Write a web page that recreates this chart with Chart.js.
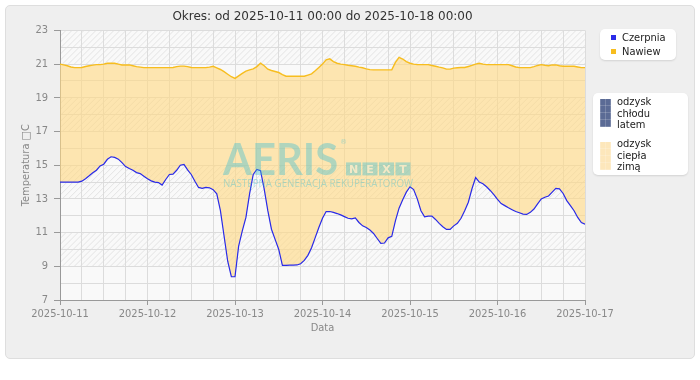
<!DOCTYPE html>
<html>
<head>
<meta charset="utf-8">
<script src="https://cdn.jsdelivr.net/npm/chart.js@4.4.1/dist/chart.umd.min.js"></script>
<style>
  body { margin: 0; background: #fff; }
  #wrap { position: relative; width: 700px; height: 380px; }
  .panel { position: absolute; left: 5px; top: 5px; width: 688px; height: 352px;
           background: #efefef; border: 1px solid #dedede; border-radius: 5px; }
  canvas { position: absolute; left: 0; top: 0; }
  .box { position: absolute; background: #fff; border-radius: 5px;
         box-shadow: 0 1px 2px rgba(0,0,0,0.12);
         font-family: "DejaVu Sans Condensed", "DejaVu Sans", sans-serif; font-size: 11px; color: #222; }
  .row { position: absolute; left: 11px; height: 14px; line-height: 14px; white-space: nowrap; }
  .dot { display: inline-block; width: 5px; height: 5px; margin-right: 6px; vertical-align: 1px; }
  .sw { position: absolute; left: 7px; width: 11px; height: 28px; }
  .txt { position: absolute; left: 24px; line-height: 11.5px; }
</style>
</head>
<body>
<div id="wrap">
  <div class="panel"></div>
  <canvas id="chart" width="700" height="380"></canvas>
  <div class="box" id="legend1" style="left:600px;top:29px;width:76px;height:31px"></div>
  <div class="box" id="legend2" style="left:593px;top:93px;width:95px;height:82px"></div>
</div>
<script>
const dayLabels = ['2025-10-11', '2025-10-12', '2025-10-13', '2025-10-14', '2025-10-15', '2025-10-16', '2025-10-17'];
const seriesNames = ['Czerpnia', 'Nawiew'];
const seriesColors = ['#2b2be8', '#f7bd1e'];
const areaNames = [['odzysk', 'chłodu', 'latem'], ['odzysk', 'ciepła', 'zimą']];

// hourly readings, 2025-10-11 00:00 .. 2025-10-17 00:00
const czerpnia = [
  14.0, 14.0, 14.0, 14.0, 14.0, 14.0, 14.05, 14.2, 14.37, 14.55,
  14.7, 14.96, 15.06, 15.35, 15.5, 15.46, 15.36, 15.15, 14.92, 14.8,
  14.7, 14.56, 14.5, 14.35, 14.2, 14.07, 14.0, 13.97, 13.82, 14.15,
  14.45, 14.47, 14.7, 15.0, 15.05, 14.72, 14.45, 14.05, 13.68, 13.62,
  13.68, 13.66, 13.55, 13.3, 12.3, 10.8, 9.3, 8.38, 8.38, 10.2,
  11.1, 11.9, 13.3, 14.45, 14.75, 14.68, 13.6, 12.3, 11.2, 10.6,
  10.0, 9.05, 9.05, 9.07, 9.07, 9.08, 9.15, 9.35, 9.65, 10.1,
  10.7, 11.3, 11.85, 12.25, 12.25, 12.2, 12.13, 12.05, 11.95, 11.85,
  11.82, 11.87, 11.6, 11.4, 11.3, 11.15, 10.95, 10.65, 10.36, 10.38,
  10.69, 10.78, 11.7, 12.45, 12.95, 13.4, 13.72, 13.55, 13.0, 12.3,
  11.94, 11.98, 11.98, 11.78, 11.55, 11.35, 11.19, 11.19, 11.4, 11.55,
  11.85, 12.3, 12.8, 13.6, 14.27, 14.0, 13.9, 13.72, 13.5, 13.25,
  12.97, 12.72, 12.6, 12.47, 12.36, 12.25, 12.18, 12.1, 12.08, 12.2,
  12.4, 12.7, 13.0, 13.1, 13.17, 13.4, 13.62, 13.6, 13.32, 12.9,
  12.6, 12.3, 11.9, 11.6, 11.5
];
const nawiew = [
  21.0, 20.95, 20.9, 20.83, 20.79, 20.79, 20.8, 20.86, 20.9, 20.94,
  20.97, 20.97, 21.0, 21.05, 21.05, 21.05, 21.0, 20.95, 20.95, 20.95,
  20.9, 20.85, 20.82, 20.79, 20.79, 20.79, 20.79, 20.79, 20.79, 20.79,
  20.79, 20.8, 20.85, 20.88, 20.88, 20.85, 20.8, 20.79, 20.79, 20.79,
  20.79, 20.82, 20.87, 20.78, 20.68, 20.55, 20.4, 20.25, 20.15, 20.3,
  20.45, 20.58, 20.66, 20.72, 20.85, 21.05, 20.9, 20.7, 20.62, 20.56,
  20.5, 20.38, 20.28, 20.28, 20.28, 20.28, 20.28, 20.28, 20.35, 20.42,
  20.6, 20.8, 21.0, 21.25, 21.31, 21.15, 21.05, 21.0, 20.97, 20.93,
  20.9, 20.87, 20.82, 20.78, 20.72, 20.67, 20.66, 20.66, 20.66, 20.66,
  20.66, 20.66, 21.1, 21.4, 21.3, 21.15, 21.05, 21.0, 20.97, 20.97,
  20.97, 20.97, 20.92, 20.87, 20.82, 20.78, 20.7, 20.7, 20.76, 20.78,
  20.8, 20.8, 20.86, 20.92, 21.0, 21.05, 21.0, 20.97, 20.97, 20.97,
  20.97, 20.97, 20.97, 20.97, 20.9, 20.83, 20.79, 20.79, 20.79, 20.79,
  20.85, 20.92, 20.97, 20.93, 20.9, 20.95, 20.95, 20.9, 20.87, 20.87,
  20.87, 20.87, 20.83, 20.79, 20.79
];

const hatchBands = [[9, 11], [13, 15], [17, 19], [21, 23]];
const gain = 'rgba(255, 216, 131, 0.62)';
const coolGain = 'rgba(45, 65, 125, 0.75)';

// html legends
document.getElementById('legend1').innerHTML = seriesNames.map((n, i) =>
  `<div class="row" style="top:${2 + i * 14}px"><span class="dot" style="background:${seriesColors[i]}"></span>${n}</div>`
).join('');
const swatchBg = ['#5b6b95', '#fde7bb'];
const gridImg = 'repeating-linear-gradient(0deg, rgba(255,255,255,0.18) 0 1px, transparent 1px 7px), repeating-linear-gradient(90deg, rgba(255,255,255,0.18) 0 1px, transparent 1px 5px)';
document.getElementById('legend2').innerHTML = areaNames.map((lines, i) =>
  `<div class="sw" style="top:${6 + i * 43}px;background-color:${swatchBg[i]};background-image:${gridImg}"></div>` +
  `<div class="txt" style="top:${3 + i * 42}px">${lines.join('<br>')}</div>`
).join('');

const bands = {
  id: 'bands',
  beforeDraw(chart) {
    const { ctx, chartArea: a, scales: { y } } = chart;
    ctx.save();
    ctx.fillStyle = '#f9f9f9';
    ctx.fillRect(a.left, a.top, a.width, a.height);
    ctx.strokeStyle = '#e3e3e3';
    ctx.lineWidth = 1;
    hatchBands.forEach(([lo, hi]) => {
      const top = y.getPixelForValue(hi), bot = y.getPixelForValue(lo), h = bot - top;
      ctx.save();
      ctx.beginPath();
      ctx.rect(a.left, top, a.width, h);
      ctx.clip();
      ctx.beginPath();
      for (let x = a.left - h; x < a.right; x += 6) {
        ctx.moveTo(x, bot);
        ctx.lineTo(x + h, top);
      }
      ctx.stroke();
      ctx.restore();
    });
    ctx.restore();
  }
};

// AERIS NEXT watermark over the plot
const watermark = {
  id: 'watermark',
  afterDatasetsDraw(chart) {
    const { ctx, chartArea: a } = chart;
    const x0 = a.left + 163, base = a.top + 145;
    const col = 'rgba(60, 190, 210, 0.4)';
    ctx.save();
    ctx.fillStyle = col;
    ctx.textBaseline = 'alphabetic';
    ctx.font = 'bold 44px Lato, "Open Sans", sans-serif';
    ctx.fillText('AERIS', x0, base, 115);
    ctx.font = '7px "DejaVu Sans", sans-serif';
    ctx.fillText('®', x0 + 117, base - 31);
    const labels = ['N', 'E', 'X', 'T'];
    labels.forEach((l, i) => {
      const bx = x0 + 123 + i * 16.5;
      ctx.fillStyle = col;
      ctx.fillRect(bx, base - 13, 15, 13);
      ctx.fillStyle = 'rgba(255, 236, 200, 0.85)';
      ctx.font = 'bold 11px "DejaVu Sans", sans-serif';
      ctx.textAlign = 'center';
      ctx.fillText(l, bx + 7.5, base - 2);
      ctx.textAlign = 'left';
    });
    ctx.fillStyle = col;
    ctx.font = '10px "Open Sans", "DejaVu Sans", sans-serif';
    ctx.fillText('NASTĘPNA GENERACJA REKUPERATORÓW', x0, base + 12, 190);
    ctx.restore();
  }
};

Chart.defaults.font.family = '"DejaVu Sans Condensed", "DejaVu Sans", sans-serif';
Chart.defaults.font.size = 11;
Chart.defaults.color = '#888';

const ctx = document.getElementById('chart').getContext('2d');
const tempChart = new Chart(ctx, {
  type: 'line',
  data: {
    datasets: [{
      label: seriesNames[0],
      data: czerpnia.map((v, i) => ({ x: i, y: v })),
      borderColor: seriesColors[0],
      borderWidth: 1.2,
      pointRadius: 0,
      tension: 0,
      fill: false
    }, {
      label: seriesNames[1],
      data: nawiew.map((v, i) => ({ x: i, y: v })),
      borderColor: seriesColors[1],
      borderWidth: 1.4,
      pointRadius: 0,
      tension: 0,
      fill: { target: 0, above: gain, below: coolGain }
    }]
  },
  options: {
    responsive: false,
    animation: false,
    layout: { padding: { left: 0, right: 115, top: 0, bottom: 40 } },
    scales: {
      x: {
        type: 'linear',
        min: 0,
        max: 144,
        afterFit: (s) => { s.height = 40; },
        ticks: {
          stepSize: 6,
          autoSkip: false,
          maxRotation: 0,
          padding: 3,
          color: '#888',
          callback: (v) => (v % 24 === 0 ? dayLabels[v / 24] : '')
        },
        grid: {
          color: '#dcdcdc',
          tickLength: 5,
          tickColor: (c) => (c.tick && c.tick.value % 24 === 0 ? '#999' : 'rgba(0,0,0,0)')
        },
        border: { color: '#999' },
        title: { display: true, text: 'Data', color: '#888', padding: { top: 0, bottom: 5 } }
      },
      y: {
        min: 7,
        max: 23,
        afterFit: (s) => { s.width = 60; },
        ticks: {
          stepSize: 1,
          padding: 6,
          color: '#888',
          callback: (v) => (v % 2 === 1 ? v : '')
        },
        grid: {
          color: '#dcdcdc',
          tickLength: 6,
          tickColor: (c) => (c.tick && c.tick.value % 2 === 1 ? '#999' : 'rgba(0,0,0,0)')
        },
        border: { color: '#999' },
        title: { display: true, text: 'Temperatura □C', color: '#888', padding: { top: 20, bottom: 0 } }
      }
    },
    plugins: {
      legend: { display: false },
      tooltip: { enabled: false },
      title: {
        display: true,
        fullSize: false,
        text: 'Okres: od 2025-10-11 00:00 do 2025-10-18 00:00',
        color: '#333',
        font: { family: '"DejaVu Sans", sans-serif', size: 12, weight: 'normal' },
        padding: { top: 10, bottom: 6 }
      }
    }
  },
  plugins: [bands, watermark]
});
</script>
</body>
</html>
